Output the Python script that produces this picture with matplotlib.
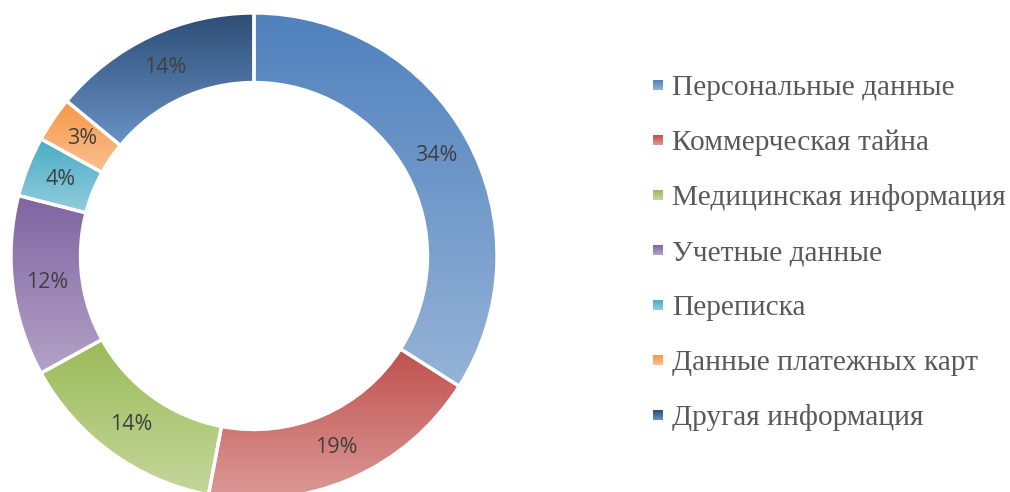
import numpy as np
import matplotlib
matplotlib.use("Agg")
import matplotlib.pyplot as plt
from matplotlib.colors import to_rgb

# data
categories = ["Персональные данные", "Коммерческая тайна", "Медицинская информация",
              "Учетные данные", "Переписка", "Данные платежных карт", "Другая информация"]
shares = [34, 19, 14, 12, 4, 3, 14]

# gradient colours per slice (top -> bottom)
top_colors = ["#4f81bd", "#c0504d", "#9bbb59", "#8064a2", "#4bacc6", "#f79646", "#2c4d75"]
bottom_colors = ["#95b3d7", "#dc9a98", "#c4d79b", "#b3a2c7", "#93cddd", "#fac08f", "#6a92c6"]


def gradient(c_top, c_bot, n=256):
    a = np.array(to_rgb(c_top))
    b = np.array(to_rgb(c_bot))
    t = np.linspace(0, 1, n)[:, None]
    return (a + (b - a) * t)[:, None, :]


fig = plt.figure(figsize=(10.1, 4.92), dpi=100)

# donut: centre ~(254, 256) px, outer radius ~243 px
ax = fig.add_axes([11 / 1010, (492 - 499) / 492, 486 / 1010, 486 / 492])
wedges, texts, autotexts = ax.pie(
    shares, startangle=90, counterclock=False, radius=1,
    autopct="%1.0f%%", pctdistance=0.857,
    wedgeprops=dict(width=0.286, edgecolor="white", linewidth=2.4, facecolor="none"),
    textprops=dict(color="#404040", fontsize=15.5, family="Open Sans"))

for w, ct, cb in zip(wedges, top_colors, bottom_colors):
    ext = w.get_patch_transform().transform_path(w.get_path()).get_extents()
    im = ax.imshow(gradient(ct, cb), extent=(ext.x0, ext.x1, ext.y0, ext.y1),
                   origin="upper", aspect="auto", zorder=1, interpolation="bilinear")
    im.set_clip_path(w)
    w.set_zorder(2)
for t in autotexts:
    t.set_zorder(3)

ax.set_xlim(-1.0, 1.0)
ax.set_ylim(-1.0, 1.0)
ax.set_aspect("equal")
ax.axis("off")

# legend drawn in pixel space
lax = fig.add_axes([0, 0, 1, 1], zorder=5)
lax.axis("off")
lax.patch.set_alpha(0)
row_y = 85
for name, ct, cb in zip(categories, top_colors, bottom_colors):
    lax.imshow(gradient(ct, cb, 32), extent=(653, 663, row_y + 5, row_y - 5),
               aspect="auto", interpolation="bilinear")
    lax.text(672, row_y + 10, name, va="baseline", ha="left", fontsize=21.2,
             family="Liberation Serif", color="#595959")
    row_y += 55
lax.set_xlim(0, 1010)
lax.set_ylim(492, 0)

fig.savefig("out.png", dpi=100)
